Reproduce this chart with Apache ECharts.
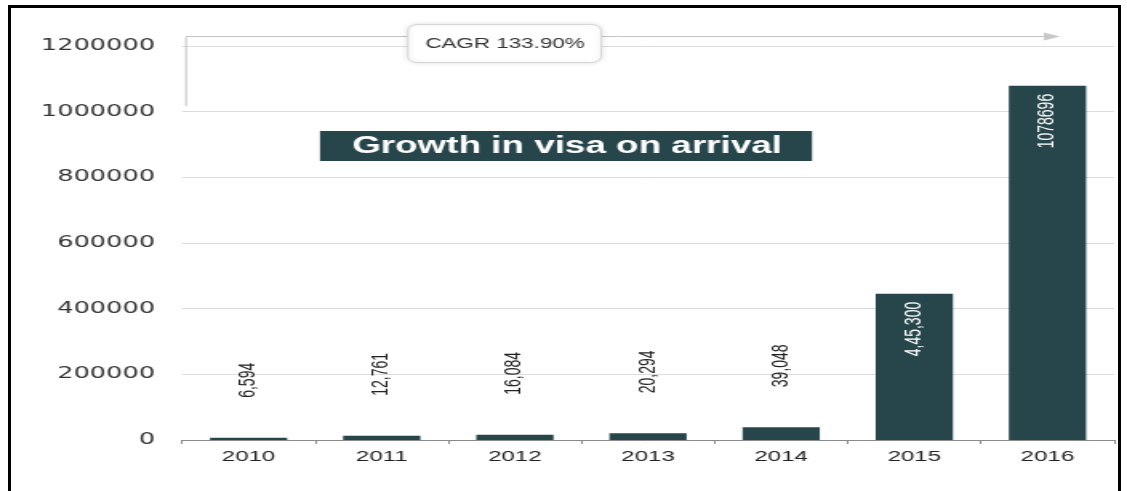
<!DOCTYPE html>
<html>
<head>
<meta charset="utf-8">
<script src="https://cdn.jsdelivr.net/npm/echarts@6/dist/echarts.min.js"></script>
<style>
  html, body { margin: 0; padding: 0; background: #fff; overflow: hidden; }
  #wrap { position: relative; width: 1127px; height: 491px; overflow: hidden; }
  /* chart is drawn narrow and widened horizontally */
  #chart { position: absolute; left: 0; top: 0; width: 704px; height: 491px;
           transform: scaleX(1.6009); transform-origin: 0 0; }
  #frame { position: absolute; left: 8px; top: 5px; width: 1113px; height: 520px;
           border: 3px solid #000; box-sizing: border-box; pointer-events: none; }
</style>
</head>
<body>
<div id="wrap">
  <div id="chart"></div>
  <div id="frame"></div>
</div>
<script>
// Visa-on-arrival counts per year
const years = ['2010', '2011', '2012', '2013', '2014', '2015', '2016'];
const visas = [6594, 12761, 16084, 20294, 39048, 445300, 1078696];
const valueLabels = ['6,594', '12,761', '16,084', '20,294', '39,048', '4,45,300', '1078696'];
const yTicks = { min: 0, max: 1200000, interval: 200000 };
const chartTitle = 'Growth in visa on arrival';
const cagrText = 'CAGR 133.90%';

const S = 1127 / 704;          // horizontal widening applied by CSS
const X = v => v / S;          // page x -> chart x

const barColor = '#27464c';
const sans = '"Liberation Sans", Arial, sans-serif';
const wide = '"DejaVu Sans", Verdana, sans-serif';

const chart = echarts.init(document.getElementById('chart'), null, { renderer: 'canvas' });

// Small bars carry their value above the bar, tall bars inside near the top
const barData = visas.map((v, i) => {
  const inside = v > 200000;
  return {
    value: v,
    label: {
      show: true,
      formatter: valueLabels[i],
      rotate: 90,
      position: inside ? 'insideTop' : 'top',
      distance: inside ? 8 : 40,
      align: inside ? 'right' : 'left',
      verticalAlign: 'middle',
      color: inside ? '#ffffff' : '#222',
      fontFamily: sans,
      fontSize: 14
    }
  };
});

chart.setOption({
  animation: false,
  backgroundColor: '#ffffff',
  grid: { left: X(182), right: X(13), top: 46, bottom: 51 },
  xAxis: {
    type: 'category',
    data: years,
    axisLine: { lineStyle: { color: '#8a8a8a', width: 1 } },
    axisTick: { show: true, length: 4, lineStyle: { color: '#8a8a8a' } },
    axisLabel: { color: '#222', fontFamily: sans, fontSize: 15, margin: 9 }
  },
  yAxis: {
    type: 'value',
    min: yTicks.min,
    max: yTicks.max,
    interval: yTicks.interval,
    axisLine: { show: false },
    axisTick: { show: false },
    axisLabel: {
      color: '#333', fontFamily: wide, fontSize: 16, margin: X(27),
      formatter: v => String(v)
    },
    splitLine: { lineStyle: { color: '#dcdcdc', width: 1 } }
  },
  series: [{
    type: 'bar',
    data: barData,
    barWidth: '58%',
    itemStyle: { color: barColor }
  }],
  graphic: [
    // CAGR bracket arrow
    {
      type: 'polyline', silent: true, z: 10,
      shape: { points: [[X(186), 106], [X(186), 36.5], [X(1048), 36.5]] },
      style: { stroke: '#c4c4c4', lineWidth: 1, fill: 'none' }
    },
    {
      type: 'polygon', silent: true, z: 10,
      shape: { points: [[X(1044), 32.5], [X(1060), 36.5], [X(1044), 40.5]] },
      style: { fill: '#c8c8c8' }
    },
    {
      type: 'rect', silent: true, z: 11,
      shape: { x: X(408), y: 24.5, width: X(193), height: 38, r: 6 },
      style: {
        fill: '#fff', stroke: '#d6d6d6', lineWidth: 1,
        shadowBlur: 4, shadowColor: 'rgba(0,0,0,0.12)'
      }
    },
    {
      type: 'text', silent: true, z: 12,
      x: X(505), y: 44,
      style: {
        text: cagrText, fill: '#333', font: '14px ' + sans,
        align: 'center', verticalAlign: 'middle'
      }
    },
    // title banner
    {
      type: 'rect', silent: true, z: 11,
      shape: { x: X(320), y: 131, width: X(492), height: 30 },
      style: { fill: barColor }
    },
    {
      type: 'text', silent: true, z: 12,
      x: X(567), y: 147,
      style: {
        text: chartTitle, fill: '#fff', font: 'bold 23px ' + sans,
        align: 'center', verticalAlign: 'middle'
      }
    }
  ]
});
</script>
</body>
</html>
